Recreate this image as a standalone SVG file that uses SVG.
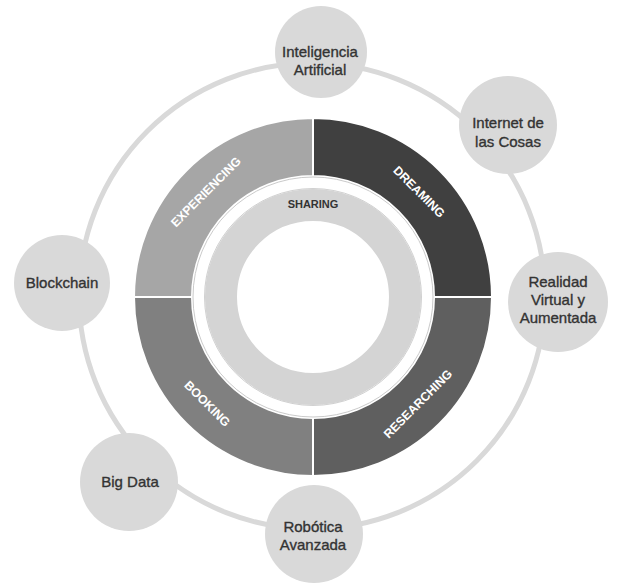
<svg xmlns="http://www.w3.org/2000/svg" width="628" height="585" viewBox="0 0 628 585">
<style>
.node circle{fill:#d9d9d9;}
.nt{font-family:"Liberation Sans",Arial,sans-serif;font-size:15px;fill:#333;stroke:#333;stroke-width:0.35;text-anchor:middle;}
.ql{font-family:"Liberation Sans",Arial,sans-serif;font-size:12.3px;font-weight:bold;fill:#fff;text-anchor:middle;}
.q{stroke:#fff;stroke-width:2;}
</style>
<rect width="628" height="585" fill="#fff"/>
<g id="connectors">
<circle cx="312" cy="296" r="233" fill="none" stroke="#d9d9d9" stroke-width="5"/>
</g>
<g id="cycle">
<path class="q" id="q-experiencing" d="M134,297 A179,179 0 0 1 313,118 L313,176 A121,121 0 0 0 192,297 Z" fill="#a6a6a6"/>
<path class="q" id="q-dreaming" d="M313,118 A179,179 0 0 1 492,297 L434,297 A121,121 0 0 0 313,176 Z" fill="#404040"/>
<path class="q" id="q-researching" d="M492,297 A179,179 0 0 1 313,476 L313,418 A121,121 0 0 0 434,297 Z" fill="#5f5f5f"/>
<path class="q" id="q-booking" d="M313,476 A179,179 0 0 1 134,297 L192,297 A121,121 0 0 0 313,418 Z" fill="#808080"/>
<circle cx="313" cy="297" r="120" fill="none" stroke="#bdbdbd" stroke-width="0.8"/>
<circle cx="313" cy="297" r="92" fill="none" stroke="#d4d4d4" stroke-width="32"/>
<circle cx="313" cy="297" r="108.5" fill="none" stroke="#c4c4c4" stroke-width="0.8"/>
<text class="ql" transform="translate(206,192) rotate(-45)" y="4">EXPERIENCING</text>
<text class="ql" transform="translate(419,192) rotate(45)" y="4">DREAMING</text>
<text class="ql" transform="translate(418,404) rotate(-45)" y="4">RESEARCHING</text>
<text class="ql" transform="translate(207,404) rotate(45)" y="4">BOOKING</text>
<text x="313" y="208" font-family="Liberation Sans,Arial,sans-serif" font-size="11" font-weight="bold" fill="#333" text-anchor="middle">SHARING</text>
</g>
<g id="n-ia" class="node"><circle cx="321" cy="52" r="46"/><text class="nt" x="320" y="57">Inteligencia</text><text class="nt" x="320" y="75">Artificial</text></g>
<g id="n-iot" class="node"><circle cx="508" cy="125" r="49"/><text class="nt" x="508" y="128">Internet de</text><text class="nt" x="508" y="147">las Cosas</text></g>
<g id="n-vr" class="node"><circle cx="558" cy="302" r="50"/><text class="nt" x="558" y="287">Realidad</text><text class="nt" x="558" y="305">Virtual y</text><text class="nt" x="558" y="323">Aumentada</text></g>
<g id="n-blockchain" class="node"><circle cx="62" cy="283" r="48"/><text class="nt" x="62" y="288">Blockchain</text></g>
<g id="n-bigdata" class="node"><circle cx="129" cy="482" r="49"/><text class="nt" x="130" y="487">Big Data</text></g>
<g id="n-robotica" class="node"><circle cx="314" cy="534" r="49"/><text class="nt" x="313" y="532">Robótica</text><text class="nt" x="313" y="550">Avanzada</text></g>
</svg>
